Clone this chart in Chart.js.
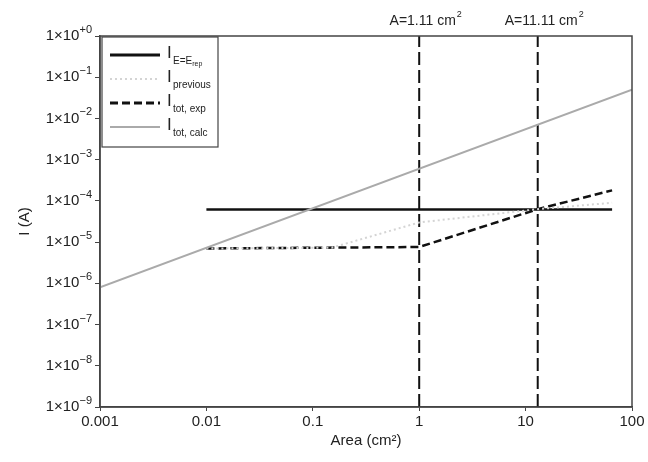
<!DOCTYPE html>
<html>
<head>
<meta charset="utf-8">
<script src="https://cdn.jsdelivr.net/npm/chart.js@4.4.1/dist/chart.umd.min.js"></script>
<style>
  html, body { margin: 0; padding: 0; background: #fff; }
  #wrap { width: 648px; height: 462px; }
</style>
</head>
<body>
<div id="wrap"><canvas id="chart" width="648" height="462"></canvas></div>
<script>
// tick values / labels
const xTicks = [0.001, 0.01, 0.1, 1, 10, 100];
const xTickLabels = ['0.001', '0.01', '0.1', '1', '10', '100'];
const yTicks = [1, 1e-1, 1e-2, 1e-3, 1e-4, 1e-5, 1e-6, 1e-7, 1e-8, 1e-9];
const yTickExp = ['+0', '\u22121', '\u22122', '\u22123', '\u22124', '\u22125', '\u22126', '\u22127', '\u22128', '\u22129'];

// series
const repArea = [0.01, 65];
const repI = [6.2e-5, 6.2e-5];
const prevArea = [0.01, 0.15, 1, 13, 65];
const prevI = [7e-6, 7.3e-6, 3e-5, 6.3e-5, 9e-5];
const expArea = [0.01, 1, 13, 65];
const expI = [7e-6, 7.6e-6, 6.3e-5, 1.8e-4];
const calcArea = [0.001, 100];
const calcI = [8e-7, 5e-2];

// marker lines
const markArea = [1, 13];
const markLabels = ['A=1.11 cm', 'A=11.11 cm'];

const FONT = '"Liberation Sans", Arial, sans-serif';

function pts(xs, ys) {
  return xs.map((x, i) => ({ x: x, y: ys[i] }));
}

const markSets = markArea.map(a => ({
  data: [{ x: a, y: 1e-9 }, { x: a, y: 1 }],
  borderColor: '#111',
  borderWidth: 2,
  borderDash: [13, 5],
  pointRadius: 0,
  fill: false
}));

// legend, frame, y labels and annotations with sub/superscripts
const decor = {
  id: 'decor',
  afterDraw(chart) {
    const ctx = chart.ctx;
    const a = chart.chartArea;
    const ys = chart.scales.y;
    const xs = chart.scales.x;
    ctx.save();

    // frame
    ctx.strokeStyle = '#444';
    ctx.lineWidth = 1.5;
    ctx.strokeRect(a.left, a.top, a.right - a.left, a.bottom - a.top);

    // y tick labels
    ctx.fillStyle = '#222';
    ctx.textBaseline = 'middle';
    yTicks.forEach((v, i) => {
      const py = ys.getPixelForValue(v);
      ctx.font = '11px ' + FONT;
      const sw = ctx.measureText(yTickExp[i]).width;
      const xr = 92;
      ctx.textAlign = 'left';
      ctx.fillText(yTickExp[i], xr - sw, py - 6);
      ctx.font = '15px ' + FONT;
      ctx.textAlign = 'right';
      ctx.fillText('1\u00d710', xr - sw, py);
    });

    // marker labels
    markArea.forEach((m, i) => {
      const px = xs.getPixelForValue(m);
      ctx.font = '14px ' + FONT;
      const w = ctx.measureText(markLabels[i]).width;
      ctx.font = '9px ' + FONT;
      const w2 = ctx.measureText('2').width;
      const x0 = px + 6 - (w + w2) / 2;
      ctx.textAlign = 'left';
      ctx.font = '14px ' + FONT;
      ctx.fillText(markLabels[i], x0, 21);
      ctx.font = '9px ' + FONT;
      ctx.fillText('2', x0 + w + 1, 15);
    });

    // legend box
    const lx = a.left + 2, ly = a.top + 1, lw = 116, lh = 110;
    ctx.fillStyle = '#fff';
    ctx.fillRect(lx, ly, lw, lh);
    ctx.strokeStyle = '#444';
    ctx.lineWidth = 1.2;
    ctx.strokeRect(lx, ly, lw, lh);

    const items = [
      { color: '#111', width: 3, dash: [], sub: 'E=E', sub2: 'rep' },
      { color: '#d4d4d4', width: 2, dash: [2, 3], sub: 'previous', sub2: '' },
      { color: '#111', width: 3, dash: [8, 4], sub: 'tot, exp', sub2: '' },
      { color: '#aaa', width: 2, dash: [], sub: 'tot, calc', sub2: '' }
    ];
    const rowY = [55, 79, 103, 127];
    items.forEach((it, i) => {
      const y = rowY[i];
      ctx.strokeStyle = it.color;
      ctx.lineWidth = it.width;
      ctx.setLineDash(it.dash);
      ctx.beginPath();
      ctx.moveTo(110, y);
      ctx.lineTo(160, y);
      ctx.stroke();
      ctx.setLineDash([]);
      ctx.fillStyle = '#222';
      ctx.textAlign = 'left';
      ctx.textBaseline = 'middle';
      ctx.font = '17px ' + FONT;
      ctx.fillText('I', 167, y - 2);
      ctx.font = '10px ' + FONT;
      ctx.fillText(it.sub, 173, y + 6);
      if (it.sub2) {
        const sw = ctx.measureText(it.sub).width;
        ctx.font = '7px ' + FONT;
        ctx.fillText(it.sub2, 173 + sw, y + 9);
      }
    });

    ctx.restore();
  }
};

new Chart(document.getElementById('chart'), {
  type: 'line',
  data: {
    datasets: [
      {
        label: 'I tot, calc',
        data: pts(calcArea, calcI),
        borderColor: '#aaa',
        borderWidth: 2,
        pointRadius: 0,
        fill: false
      },
      {
        label: 'I previous',
        data: pts(prevArea, prevI),
        borderColor: '#d4d4d4',
        borderWidth: 2,
        borderDash: [2, 3],
        pointRadius: 0,
        fill: false
      },
      {
        label: 'I E=E rep',
        data: pts(repArea, repI),
        borderColor: '#111',
        borderWidth: 2.5,
        pointRadius: 0,
        fill: false
      },
      {
        label: 'I tot, exp',
        data: pts(expArea, expI),
        borderColor: '#111',
        borderWidth: 2.5,
        borderDash: [8, 4],
        pointRadius: 0,
        fill: false
      },
      ...markSets
    ]
  },
  options: {
    responsive: false,
    animation: false,
    layout: { padding: { top: 36, right: 16, left: 0, bottom: 0 } },
    plugins: {
      legend: { display: false },
      tooltip: { enabled: false }
    },
    scales: {
      x: {
        type: 'logarithmic',
        min: 0.001,
        max: 100,
        afterBuildTicks: s => { s.ticks = xTicks.map(v => ({ value: v })); },
        afterFit: s => { s.height = 55; },
        ticks: {
          autoSkip: false,
          maxRotation: 0,
          padding: 2,
          color: '#222',
          font: { family: FONT, size: 15 },
          callback: (v) => {
            const i = xTicks.findIndex(t => Math.abs(Math.log10(t) - Math.log10(v)) < 1e-6);
            return i >= 0 ? xTickLabels[i] : '';
          }
        },
        grid: { drawOnChartArea: false, drawTicks: true, tickLength: 4, color: '#444' },
        border: { display: true, color: '#444', width: 1.5 },
        title: {
          display: true,
          text: 'Area (cm\u00b2)',
          color: '#222',
          font: { family: FONT, size: 15 },
          padding: { top: 0, bottom: 12 }
        }
      },
      y: {
        type: 'logarithmic',
        min: 1e-9,
        max: 1,
        afterBuildTicks: s => { s.ticks = yTicks.map(v => ({ value: v })); },
        afterFit: s => { s.width = 100; },
        ticks: { display: false },
        grid: { drawOnChartArea: false, drawTicks: true, tickLength: 5, color: '#444' },
        border: { display: true, color: '#444', width: 1.5 },
        title: {
          display: true,
          text: 'I (A)',
          color: '#222',
          font: { family: FONT, size: 15 },
          padding: { top: 16, bottom: 0 }
        }
      }
    }
  },
  plugins: [decor]
});
</script>
</body>
</html>
